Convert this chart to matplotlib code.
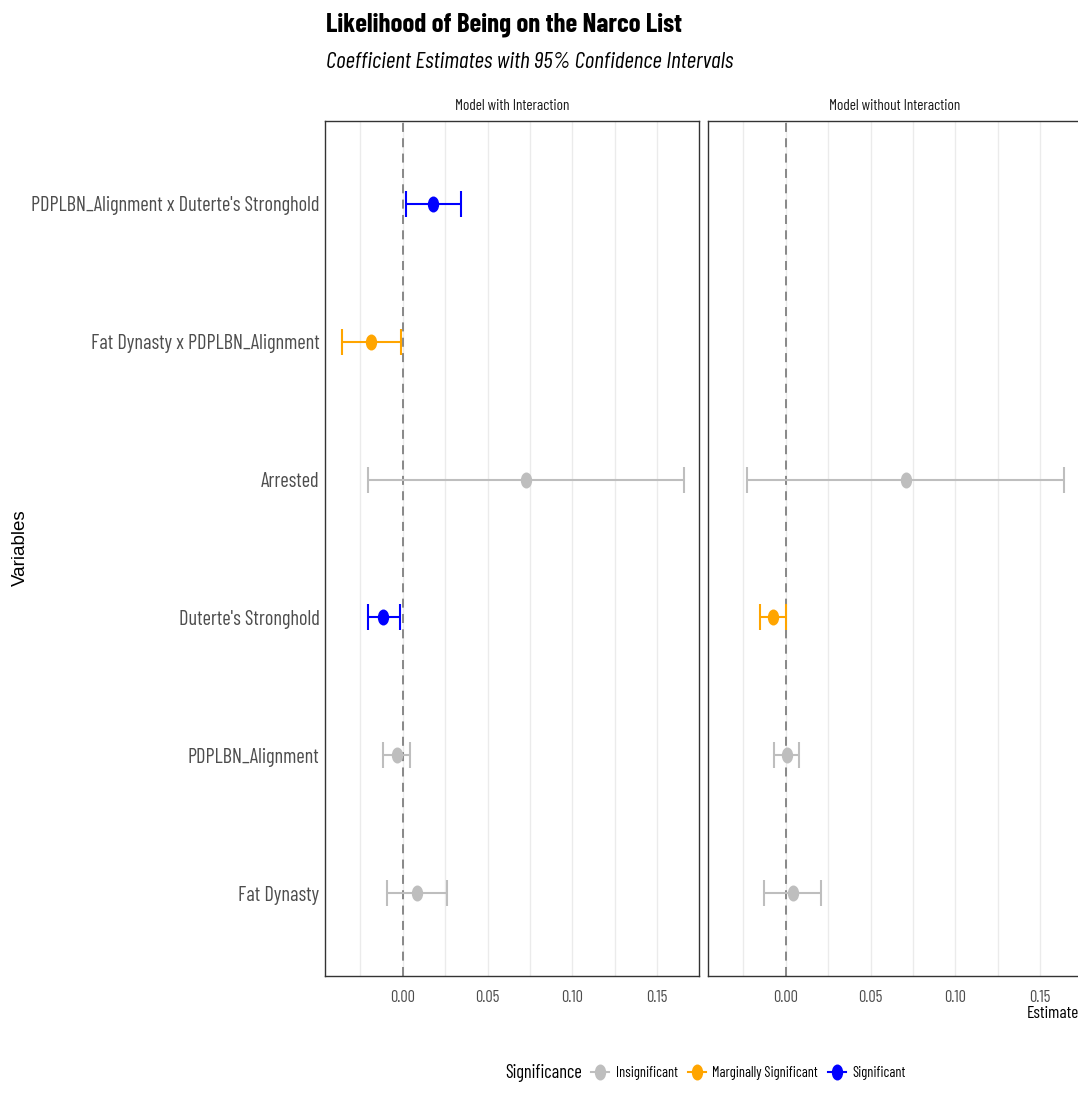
import matplotlib
matplotlib.use('Agg')
import matplotlib.pyplot as plt
from matplotlib.lines import Line2D
from matplotlib.path import Path
from matplotlib.transforms import Affine2D
import numpy as np

variables = ['Fat Dynasty', 'PDPLBN_Alignment', "Duterte's Stronghold", 'Arrested',
             'Fat Dynasty x PDPLBN_Alignment', "PDPLBN_Alignment x Duterte's Stronghold"]

# model with interaction (same order as variables)
est_int = [0.0083, -0.0035, -0.0118, 0.0726, -0.0185, 0.0179]
lo_int = [-0.0093, -0.0116, -0.0206, -0.0206, -0.0358, 0.0016]
hi_int = [0.0258, 0.0045, -0.0018, 0.1658, -0.0010, 0.0342]
sig_int = ['Insignificant', 'Insignificant', 'Significant', 'Insignificant',
           'Marginally Significant', 'Significant']

# model without interaction (no interaction terms)
est_noint = [0.0041, 0.0006, -0.0077, 0.0708]
lo_noint = [-0.0126, -0.0067, -0.0153, -0.0230]
hi_noint = [0.0210, 0.0078, 0.0000, 0.1640]
sig_noint = ['Insignificant', 'Insignificant', 'Marginally Significant', 'Insignificant']

sig_levels = ['Insignificant', 'Marginally Significant', 'Significant']
sig_colors = {'Insignificant': '#BEBEBE', 'Marginally Significant': '#FFA500',
              'Significant': '#0000FF'}

plt.rcParams['font.family'] = ['Barlow Condensed', 'DejaVu Sans']

# narrow oval point marker
dot = Path.unit_circle().transformed(Affine2D().scale(0.68, 1.0))

W, H = 1078, 1102
fig = plt.figure(figsize=(W / 100, H / 100), dpi=100)


def panel_rect(x0, x1, y0, y1):
    return [x0 / W, 1 - y1 / H, (x1 - x0) / W, (y1 - y0) / H]


ax1 = fig.add_axes(panel_rect(325, 699, 121, 976))
ax2 = fig.add_axes(panel_rect(708, 1082, 121, 976))


def draw_panel(ax, est, lo, hi, sig, title):
    ypos = np.arange(1, len(est) + 1)
    for y, e, l, h, s in zip(ypos, est, lo, hi, sig):
        c = sig_colors[s]
        ax.errorbar(e, y, xerr=[[e - l], [h - e]], fmt='none', ecolor=c,
                    elinewidth=1.5, capsize=9.7, capthick=1.5, zorder=3)
        ax.plot(e, y, marker=dot, markersize=10.5, color=c, linestyle='none', zorder=4)
    ax.axvline(0, color='#808080', linestyle=(0, (5, 3.5)), linewidth=1.3, zorder=2)
    ax.set_xlim(-0.0459, 0.1747)
    ax.set_ylim(0.4, 6.6)
    ax.set_xticks([0.0, 0.05, 0.10, 0.15])
    ax.set_xticks([-0.025, 0.025, 0.075, 0.125], minor=True)
    ax.set_xticklabels(['0.00', '0.05', '0.10', '0.15'])
    ax.grid(True, axis='x', which='both', color='#EBEBEB', linewidth=1.0, zorder=0)
    ax.set_axisbelow(True)
    ax.tick_params(axis='both', which='both', length=0, labelsize=11.8,
                   labelcolor='#4D4D4D', pad=10)
    for sp in ax.spines.values():
        sp.set_color('#333333')
        sp.set_linewidth(1.0)
    ax.set_title(title, fontsize=11, color='#1A1A1A', pad=8)


draw_panel(ax1, est_int, lo_int, hi_int, sig_int, 'Model with Interaction')
draw_panel(ax2, est_noint, lo_noint, hi_noint, sig_noint, 'Model without Interaction')

ax1.set_yticks(np.arange(1, len(variables) + 1))
ax1.set_yticklabels(variables)
ax1.tick_params(axis='y', labelsize=14.7, pad=4)
ax2.set_yticks([])

fig.text(326 / W, 1 - 25 / H, 'Likelihood of Being on the Narco List', fontsize=19.3,
         fontweight='bold', va='center', ha='left')
fig.text(326 / W, 1 - 63 / H, 'Coefficient Estimates with 95% Confidence Intervals',
         fontsize=16.8, style='italic', va='center', ha='left')
fig.text(1027 / W, 1 - 1014 / H, 'Estimate', fontsize=12.5, va='center', ha='left')
fig.text(20 / W, 1 - 548 / H, 'Variables', fontsize=13.5, rotation=90,
         va='center', ha='center', family=['Liberation Sans', 'DejaVu Sans'])

handles = [Line2D([0], [0], color=sig_colors[s], marker=dot, markersize=10.5,
                  linewidth=1.5) for s in sig_levels]
fig.text(505 / W, 1 - 1073 / H, 'Significance', fontsize=13.2, va='center', ha='left')
fig.legend(handles, sig_levels, loc='center left', bbox_to_anchor=(591 / W, 1 - 1073 / H),
           ncol=3, frameon=False, fontsize=10.4, handlelength=1.25, handletextpad=0.45,
           columnspacing=0.7, borderaxespad=0, borderpad=0)

fig.savefig('out.png', dpi=100)
